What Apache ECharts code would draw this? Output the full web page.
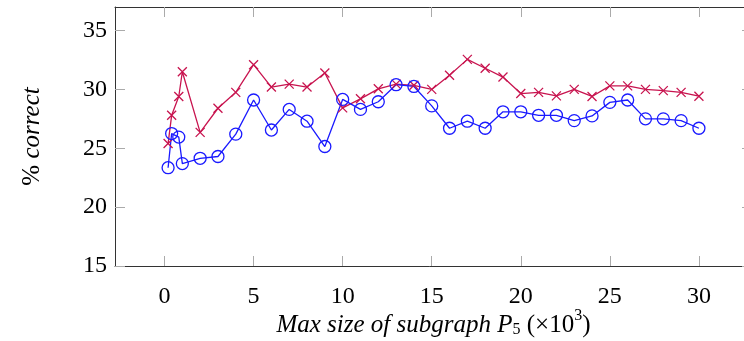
<!DOCTYPE html>
<html>
<head>
<meta charset="utf-8">
<script src="https://cdn.jsdelivr.net/npm/echarts@6/dist/echarts.min.js"></script>
<style>
  html, body { margin: 0; padding: 0; background: #fff; }
  #chart { width: 744px; height: 341px; }
</style>
</head>
<body>
<div id="chart"></div>
<script>
// sizes in thousands
const sizes = [0.2, 0.4, 0.8, 1, 2, 3, 4, 5, 6, 7, 8, 9, 10, 11, 12, 13, 14, 15,
  16, 17, 18, 19, 20, 21, 22, 23, 24, 25, 26, 27, 28, 29, 30]

const redValues = [25.4, 27.8, 29.4, 31.5, 26.35, 28.4, 29.75, 32.1, 30.2, 30.45, 30.2, 31.4,
  28.43, 29.2, 30.05, 30.45, 30.35, 30.0, 31.2, 32.55, 31.8, 31.05, 29.65, 29.75, 29.45,
  30.0, 29.4, 30.3, 30.3, 30.0, 29.9, 29.75, 29.42]

const blueValues = [23.35, 26.25, 25.95, 23.7, 24.15, 24.3, 26.2, 29.1, 26.55, 28.3, 27.3, 25.15,
  29.15, 28.3, 28.95, 30.4, 30.25, 28.6, 26.7, 27.3, 26.7, 28.1, 28.1, 27.8, 27.8,
  27.35, 27.75, 28.9, 29.1, 27.5, 27.5, 27.35, 26.7]

const xTicks = [0, 5, 10, 15, 20, 25, 30]
const yTicks = [15, 20, 25, 30, 35]

const serif = '"Liberation Serif", "DejaVu Serif", serif'
const tickColor = '#aaaaaa'
const lineColor = '#333333'
const redColor = '#c8144f'
const blueColor = '#1a1aff'

function pairs(ys) {
  return sizes.map((x, i) => [x, ys[i]])
}

function xAxisBase(extra) {
  return Object.assign({
    type: 'value',
    min: -2.78,
    max: 32.98,
    axisLine: { show: true, onZero: false, lineStyle: { color: lineColor, width: 1 } },
    axisTick: { show: true, inside: true, length: 10, customValues: xTicks,
      lineStyle: { color: tickColor, width: 1 } },
    splitLine: { show: false },
    axisLabel: { show: false }
  }, extra)
}

function yAxisBase(extra) {
  return Object.assign({
    type: 'value',
    min: 15,
    max: 37,
    axisLine: { show: true, onZero: false, lineStyle: { color: lineColor, width: 1 } },
    axisTick: { show: true, inside: true, length: 10, customValues: yTicks,
      lineStyle: { color: tickColor, width: 1 } },
    splitLine: { show: false },
    axisLabel: { show: false }
  }, extra)
}

const chart = echarts.init(document.getElementById('chart'))

chart.setOption({
  animation: false,
  backgroundColor: '#fff',
  grid: { left: 115, right: -8, top: 7, bottom: 75, outerBoundsMode: 'none', containLabel: false },
  xAxis: [
    xAxisBase({
      position: 'bottom',
      axisLabel: { show: true, customValues: xTicks, margin: 19, color: '#000',
        fontFamily: serif, fontSize: 24 },
      name: '{i|Max size of subgraph }{p|P}{s|5}{n| (×10}{u|3}{n|)}',
      nameLocation: 'middle',
      nameMoveOverlap: false,
      nameGap: 42,
      nameTextStyle: {
        color: '#000',
        rich: {
          i: { fontFamily: serif, fontStyle: 'italic', fontSize: 25, lineHeight: 30, verticalAlign: 'bottom' },
          p: { fontFamily: serif, fontStyle: 'italic', fontSize: 25, lineHeight: 30, verticalAlign: 'bottom' },
          s: { fontFamily: serif, fontSize: 16, lineHeight: 15, verticalAlign: 'bottom' },
          n: { fontFamily: serif, fontSize: 25, lineHeight: 30, verticalAlign: 'bottom' },
          u: { fontFamily: serif, fontSize: 16, lineHeight: 16, verticalAlign: 'top' }
        }
      }
    }),
    xAxisBase({ position: 'top' })
  ],
  yAxis: [
    yAxisBase({
      position: 'left',
      axisLabel: { show: true, customValues: yTicks, margin: 8, color: '#000',
        fontFamily: serif, fontSize: 24 },
      name: '{n|% }{i|correct}',
      nameLocation: 'middle',
      nameMoveOverlap: false,
      nameGap: 70,
      nameTextStyle: {
        color: '#000',
        rich: {
          n: { fontFamily: serif, fontSize: 25 },
          i: { fontFamily: serif, fontStyle: 'italic', fontSize: 25 }
        }
      }
    }),
    yAxisBase({ position: 'right' })
  ],
  series: [
    {
      name: 'red',
      type: 'line',
      data: pairs(redValues),
      xAxisIndex: 0,
      yAxisIndex: 0,
      symbol: 'path://M0,0L10,10M10,0L0,10',
      symbolSize: 9,
      lineStyle: { color: redColor, width: 1.3 },
      itemStyle: { color: 'none', borderColor: redColor, borderWidth: 1.3 }
    },
    {
      name: 'blue',
      type: 'line',
      data: pairs(blueValues),
      xAxisIndex: 0,
      yAxisIndex: 0,
      symbol: 'circle',
      symbolSize: 12,
      lineStyle: { color: blueColor, width: 1.3 },
      itemStyle: { color: 'none', borderColor: blueColor, borderWidth: 1.3 }
    }
  ]
})
</script>
</body>
</html>
